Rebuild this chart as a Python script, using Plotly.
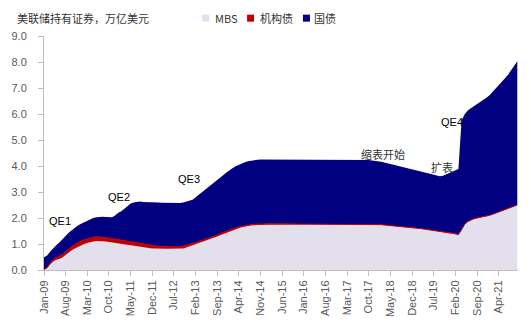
import pandas as pd
import plotly.graph_objects as go

# Federal Reserve securities holdings, trillion USD, monthly (Jan 2009 - Oct 2021)
MONTHS = pd.date_range("2009-01-01", "2021-10-01", freq="MS")

MBS = [
    0.00, 0.07, 0.20, 0.33, 0.39, 0.42, 0.48, 0.58, 0.68, 0.76, 0.83, 0.89,  # 2009
    0.96, 1.00, 1.04, 1.08, 1.10, 1.12, 1.12, 1.11, 1.10, 1.08, 1.06, 1.04,  # 2010
    1.02, 1.00, 0.98, 0.96, 0.94, 0.93, 0.91, 0.89, 0.88, 0.86, 0.84, 0.83,  # 2011
    0.83, 0.82, 0.82, 0.82, 0.82, 0.82, 0.81, 0.81, 0.81, 0.83, 0.87, 0.91,  # 2012
    0.94, 0.98, 1.02, 1.06, 1.10, 1.14, 1.19, 1.24, 1.29, 1.34, 1.39, 1.44,  # 2013
    1.49, 1.53, 1.57, 1.61, 1.64, 1.67, 1.69, 1.71, 1.72, 1.73, 1.74, 1.74,  # 2014
    1.74, 1.74, 1.74, 1.74, 1.74, 1.74, 1.74, 1.74, 1.74, 1.74, 1.75, 1.75,  # 2015
    1.75, 1.75, 1.75, 1.75, 1.75, 1.75, 1.75, 1.75, 1.76, 1.76, 1.76, 1.76,  # 2016
    1.76, 1.76, 1.76, 1.77, 1.77, 1.77, 1.77, 1.77, 1.77, 1.77, 1.76, 1.76,  # 2017
    1.75, 1.74, 1.73, 1.72, 1.71, 1.70, 1.68, 1.67, 1.66, 1.64, 1.63, 1.62,  # 2018
    1.61, 1.60, 1.59, 1.57, 1.55, 1.53, 1.52, 1.50, 1.48, 1.46, 1.45, 1.43,  # 2019
    1.42, 1.40, 1.36, 1.55, 1.75, 1.86, 1.92, 1.97, 2.00, 2.02, 2.05, 2.08,  # 2020
    2.10, 2.14, 2.18, 2.22, 2.27, 2.31, 2.35, 2.40, 2.45, 2.50,              # 2021
]

AGENCY = [
    0.020, 0.030, 0.050, 0.070, 0.090, 0.100, 0.110, 0.120, 0.130, 0.140, 0.150, 0.160,  # 2009
    0.160, 0.160, 0.160, 0.160, 0.160, 0.160, 0.160, 0.150, 0.150, 0.150, 0.150, 0.150,  # 2010
    0.145, 0.140, 0.140, 0.130, 0.130, 0.120, 0.120, 0.115, 0.110, 0.110, 0.105, 0.100,  # 2011
    0.100, 0.100, 0.100, 0.095, 0.090, 0.090, 0.090, 0.085, 0.080, 0.080, 0.080, 0.080,  # 2012
    0.075, 0.075, 0.070, 0.070, 0.070, 0.065, 0.065, 0.060, 0.060, 0.060, 0.060, 0.057,  # 2013
    0.055, 0.053, 0.050, 0.048, 0.045, 0.044, 0.043, 0.042, 0.041, 0.040, 0.039, 0.039,  # 2014
    0.038, 0.038, 0.037, 0.036, 0.036, 0.035, 0.035, 0.034, 0.034, 0.033, 0.033, 0.033,  # 2015
    0.033, 0.032, 0.031, 0.030, 0.027, 0.025, 0.022, 0.020, 0.018, 0.017, 0.017, 0.016,  # 2016
    0.012, 0.010, 0.009, 0.008, 0.007, 0.007, 0.006, 0.006, 0.005, 0.004, 0.004, 0.004,  # 2017
    0.003, 0.003, 0.002, 0.002, 0.002, 0.002, 0.002, 0.002, 0.002, 0.002, 0.002, 0.002,  # 2018
    0.002, 0.002, 0.002, 0.002, 0.002, 0.002, 0.002, 0.002, 0.002, 0.002, 0.002, 0.002,  # 2019
    0.002, 0.002, 0.002, 0.002, 0.002, 0.002, 0.002, 0.002, 0.002, 0.002, 0.002, 0.002,  # 2020
    0.002, 0.002, 0.002, 0.002, 0.002, 0.002, 0.002, 0.002, 0.002, 0.002,                # 2021
]

TREASURY = [
    0.47, 0.46, 0.45, 0.44, 0.47, 0.54, 0.60, 0.62, 0.62, 0.63, 0.65, 0.66,  # 2009
    0.66, 0.68, 0.70, 0.72, 0.74, 0.75, 0.77, 0.79, 0.79, 0.80, 0.82, 0.91,  # 2010
    1.04, 1.12, 1.24, 1.37, 1.48, 1.55, 1.59, 1.63, 1.63, 1.65, 1.67, 1.67,  # 2011
    1.67, 1.68, 1.67, 1.67, 1.67, 1.67, 1.68, 1.67, 1.69, 1.69, 1.68, 1.68,  # 2012
    1.69, 1.74, 1.79, 1.84, 1.89, 1.95, 2.00, 2.05, 2.10, 2.15, 2.20, 2.25,  # 2013
    2.30, 2.34, 2.37, 2.39, 2.42, 2.43, 2.45, 2.46, 2.47, 2.47, 2.47, 2.47,  # 2014
    2.46, 2.46, 2.46, 2.46, 2.46, 2.46, 2.46, 2.46, 2.46, 2.46, 2.46, 2.46,  # 2015
    2.46, 2.46, 2.46, 2.46, 2.46, 2.46, 2.46, 2.46, 2.46, 2.46, 2.46, 2.46,  # 2016
    2.46, 2.46, 2.46, 2.46, 2.46, 2.46, 2.46, 2.46, 2.46, 2.46, 2.45, 2.44,  # 2017
    2.43, 2.42, 2.40, 2.39, 2.37, 2.35, 2.34, 2.32, 2.30, 2.28, 2.26, 2.24,  # 2018
    2.22, 2.20, 2.18, 2.17, 2.16, 2.15, 2.13, 2.12, 2.12, 2.16, 2.23, 2.31,  # 2019
    2.36, 2.43, 2.52, 4.20, 4.24, 4.27, 4.30, 4.33, 4.37, 4.43, 4.48, 4.54,  # 2020
    4.62, 4.71, 4.82, 4.90, 4.98, 5.07, 5.15, 5.28, 5.40, 5.53,              # 2021
]

TICK_LABELS = ["Jan-09", "Aug-09", "Mar-10", "Oct-10", "May-11", "Dec-11", "Jul-12",
               "Feb-13", "Sep-13", "Apr-14", "Nov-14", "Jun-15", "Jan-16", "Aug-16",
               "Mar-17", "Oct-17", "May-18", "Dec-18", "Jul-19", "Feb-20", "Sep-20",
               "Apr-21"]
Y_TICKS = [0, 1, 2, 3, 4, 5, 6, 7, 8, 9]

SERIES = [("MBS", MBS, "#E3DFEC"), ("机构债", AGENCY, "#C00000"), ("国债", TREASURY, "#000080")]

FONT = "Liberation Sans, Arial, Noto Sans CJK SC, sans-serif"
CJK = "Noto Sans CJK SC, Liberation Sans, sans-serif"

# plot area in pixels
W, H = 531, 329
L, R, T, B = 43, 13, 36, 57
PW, PH = W - L - R, H - T - B


def px(x):
    return (x - L) / PW


def py(y):
    return (H - B - y) / PH


fig = go.Figure()
for name, vals, color in SERIES:
    line = dict(width=1, color=color) if name == "机构债" else dict(width=0)
    fig.add_trace(go.Scatter(
        x=MONTHS, y=vals, name=name, mode="lines", stackgroup="holdings",
        line=line, fillcolor=color, showlegend=False, hoverinfo="x+y+name",
    ))

# event labels
notes = [
    ("QE1", "2009-06-10", 1.87, "#000000", FONT),
    ("QE2", "2011-01-07", 2.79, "#000000", FONT),
    ("QE3", "2012-11-27", 3.51, "#000000", FONT),
    ("QE4", "2019-12-28", 5.69, "#000000", FONT),
    ("缩表开始", "2018-02-18", 4.47, "#333333", CJK),
    ("扩表", "2019-09-20", 3.97, "#333333", CJK),
]
annotations = []
for text, x, y, col, fam in notes:
    annotations.append(dict(text=text, x=x, y=y, xref="x", yref="y", showarrow=False,
                            font=dict(size=11, color=col, family=fam)))

# title
annotations.append(dict(text="美联储持有证券，万亿美元", x=px(14), y=py(18), xref="paper",
                        yref="paper", xanchor="left", yanchor="middle", showarrow=False,
                        font=dict(size=11, color="#333333", family=CJK)))

# legend
shapes = []
legend_pos = [(205, 212), (250, 257), (306, 312)]
for (name, _, color), (sx, tx) in zip(SERIES, legend_pos):
    shapes.append(dict(type="rect", xref="paper", yref="paper", xsizemode="pixel",
                       ysizemode="pixel", xanchor=px(sx), yanchor=py(18),
                       x0=-3.5, x1=3.5, y0=-3.5, y1=3.5,
                       fillcolor=color, line=dict(width=0)))
    annotations.append(dict(text=name, x=px(tx), y=py(18), xref="paper", yref="paper",
                            xanchor="left", yanchor="middle", showarrow=False,
                            font=dict(size=11, color="#333333", family=CJK)))

fig.update_layout(
    width=W, height=H,
    margin=dict(l=L, r=R, t=T, b=B, pad=0),
    paper_bgcolor="white", plot_bgcolor="white",
    showlegend=False,
    font=dict(family=FONT, size=11, color="#595959"),
    annotations=annotations,
    shapes=shapes,
)
fig.update_xaxes(
    type="date",
    range=["2009-01-01", "2021-10-08"],
    tickvals=pd.to_datetime(TICK_LABELS, format="%b-%y"),
    ticktext=TICK_LABELS,
    tickangle=-90,
    showgrid=False, zeroline=False,
    showline=True, linecolor="#BFBFBF", linewidth=1,
    ticks="outside", ticklen=5, tickcolor="#BFBFBF",
    tickfont=dict(size=11, color="#595959"),
)
fig.update_yaxes(
    range=[0, 9],
    tickvals=Y_TICKS,
    ticktext=[f"{v:.1f}" for v in Y_TICKS],
    showgrid=False, zeroline=False,
    showline=True, linecolor="#BFBFBF", linewidth=1,
    ticks="outside", ticklen=5, tickcolor="#BFBFBF",
    ticklabelstandoff=9,
    tickfont=dict(size=11, color="#595959"),
)

fig.write_html("out.html")
